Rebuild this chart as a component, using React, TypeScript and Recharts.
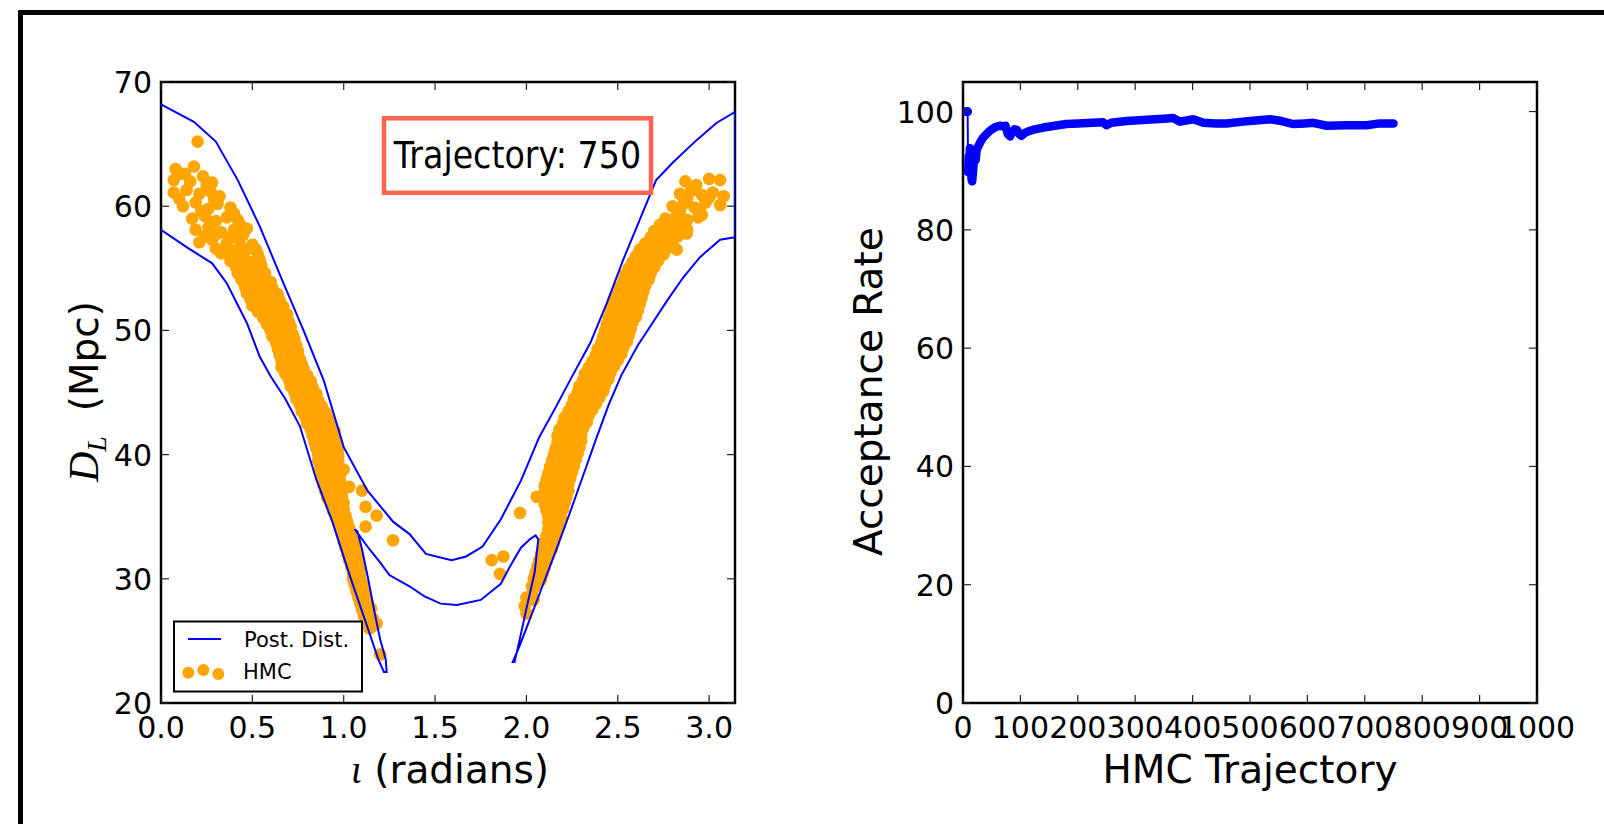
import React from 'react';
import {
  ComposedChart,
  LineChart,
  Line,
  Scatter,
  XAxis,
  YAxis,
  ReferenceArea,
} from 'recharts';

const PI = Math.PI;

// ---- left panel: posterior contour and HMC samples (iota, D_L) ----
const postDist: [number, number][] = [
  // lower-left edge down to the left tip
  [0.0, 58.1], [0.14, 56.7], [0.28, 55.4], [0.36, 53.8], [0.47, 50.6], [0.54, 47.9],
  [0.6, 46.3], [0.68, 44.5], [0.76, 42.3], [0.85, 38.0], [0.94, 34.5], [1.03, 30.4],
  [1.13, 26.1], [1.19, 23.5], [1.22, 22.5], [1.235, 22.5],
  // back up to the left hook, then the inner arc
  [1.23, 23.5], [1.2, 25.1], [1.17, 27.2], [1.135, 29.9], [1.1, 32.4], [1.075, 33.8],
  [1.06, 34.0], [1.08, 33.6], [1.14, 32.4], [1.2, 31.3], [1.25, 30.3], [1.36, 29.4],
  [1.44, 28.6], [1.53, 28.0], [1.62, 27.9], [1.75, 28.3], [1.86, 29.6], [1.91, 31.0],
  [1.97, 32.5], [2.02, 33.2], [2.05, 33.5], [2.065, 33.2],
  // down to the right tip
  [2.045, 30.5], [2.0, 27.6], [1.96, 24.9], [1.935, 23.3], [1.925, 23.3],
  // lower-right edge
  [1.96, 24.5], [2.02, 26.8], [2.09, 29.5], [2.16, 32.2], [2.24, 35.4], [2.31, 38.3],
  [2.38, 41.2], [2.45, 44.0], [2.52, 46.4], [2.61, 48.8], [2.69, 50.6], [2.77, 52.4],
  [2.86, 54.3], [2.95, 55.9], [3.06, 57.3], [PI, 57.5],
  // right edge and the upper curve back to the left
  [PI, 67.6], [3.04, 66.7], [2.93, 65.3], [2.8, 63.5], [2.71, 62.1], [2.62, 58.9],
  [2.53, 55.7], [2.44, 52.2], [2.35, 49.0], [2.25, 46.3], [2.16, 43.8], [2.07, 41.4],
  [1.97, 37.9], [1.86, 34.8], [1.76, 32.6], [1.67, 31.8], [1.59, 31.5], [1.45, 32.0],
  [1.36, 33.6], [1.27, 34.6], [1.13, 37.1], [1.0, 40.6], [0.89, 46.0], [0.78, 50.0],
  [0.67, 53.8], [0.54, 58.4], [0.42, 62.1], [0.3, 65.2], [0.18, 66.8], [0.0, 68.2],
];

const hmcLeftBranch: [number, number][] = [
  [0.2, 65.2],
  [0.08, 63.0], [0.18, 63.2], [0.13, 62.6],
  [0.07, 62.1], [0.16, 62.0], [0.23, 62.4], [0.28, 61.9],
  [0.07, 61.1], [0.14, 61.3], [0.21, 61.0], [0.27, 61.2], [0.32, 60.8],
  [0.12, 60.0], [0.19, 60.3], [0.26, 59.8], [0.31, 60.2], [0.38, 59.9],
  [0.17, 59.0], [0.24, 59.2], [0.3, 58.8], [0.36, 59.1], [0.42, 58.9],
  [0.19, 58.1], [0.26, 58.3], [0.33, 57.9], [0.4, 58.1], [0.47, 58.2],
  [0.21, 57.1], [0.28, 57.3], [0.36, 57.0], [0.43, 57.2], [0.5, 56.9],
  [0.33, 56.2], [0.39, 56.4], [0.45, 56.0], [0.53, 56.1],
  [0.41, 55.1], [0.46, 55.3], [0.51, 54.9], [0.55, 55.2],
  [0.44, 54.1], [0.49, 53.8], [0.54, 54.2], [0.6, 53.9],
  [0.47, 53.0], [0.53, 52.8], [0.58, 53.1], [0.64, 52.9],
  [0.5, 52.0], [0.56, 51.8], [0.61, 52.2], [0.67, 51.9],
  [0.56, 51.0], [0.61, 50.8], [0.66, 51.1], [0.7, 50.7],
  [0.6, 50.0], [0.65, 49.8], [0.69, 50.2], [0.72, 49.7],
  [0.63, 49.0], [0.67, 48.7], [0.71, 49.1], [0.74, 48.8],
  [0.65, 48.0], [0.69, 47.8], [0.73, 48.1], [0.76, 47.7],
  [0.66, 47.0], [0.7, 46.8], [0.74, 47.1], [0.78, 46.9],
  [0.7, 46.0], [0.74, 45.8], [0.78, 46.1], [0.82, 45.9],
  [0.73, 45.0], [0.77, 44.8], [0.81, 45.1], [0.85, 44.9],
  [0.76, 44.0], [0.8, 43.8], [0.84, 44.1], [0.88, 43.9],
  [0.79, 43.0], [0.83, 42.8], [0.87, 43.1], [0.92, 42.9],
  [0.82, 42.0], [0.86, 41.8], [0.9, 42.1], [0.95, 41.9],
  [0.84, 41.0], [0.88, 40.8], [0.92, 41.1], [0.96, 40.9],
  [0.86, 40.0], [0.9, 39.8], [0.94, 40.1], [0.97, 39.9],
  [0.87, 39.0], [0.91, 38.8], [0.95, 39.1], [0.98, 38.9], [1.0, 38.8],
  [0.88, 38.0], [0.92, 37.8], [0.96, 38.1], [0.98, 37.9], [1.03, 37.4], [1.1, 37.1],
  [0.9, 37.0], [0.94, 36.8], [0.99, 37.0],
  [0.93, 36.0], [0.97, 35.8], [1.0, 36.1], [1.12, 35.8], [1.18, 35.1],
  [0.96, 35.0], [0.99, 34.8], [1.01, 35.1],
  [0.98, 34.0], [1.01, 33.8], [1.03, 34.1], [1.12, 34.2], [1.27, 33.1],
  [1.0, 33.0], [1.03, 32.8], [1.05, 33.1],
  [1.02, 32.0], [1.05, 31.8], [1.07, 32.1],
  [1.04, 31.0], [1.06, 30.8], [1.08, 31.1],
  [1.05, 30.0], [1.07, 29.8], [1.09, 30.1],
  [1.07, 29.0], [1.09, 28.8], [1.11, 29.1],
  [1.09, 28.0], [1.11, 27.8], [1.13, 28.1],
  [1.11, 27.0], [1.14, 27.1], [1.16, 26.8],
  [1.14, 26.0], [1.17, 26.3], [1.18, 26.4],
  [1.2, 23.9],
];

// samples lying between the rows above (the band is solid in the figure)
const hmcLeftFill: [number, number][] = [
  [0.1, 62.6], [0.25, 61.7],
  [0.1, 60.6], [0.29, 60.6],
  [0.22, 59.6], [0.4, 59.4],
  [0.28, 58.7], [0.43, 58.6],
  [0.24, 57.6], [0.31, 57.8], [0.38, 57.5], [0.45, 57.7],
  [0.3, 56.6], [0.36, 56.7], [0.42, 56.5], [0.48, 56.6], [0.52, 56.5],
  [0.38, 55.6], [0.43, 55.7], [0.49, 55.5], [0.54, 55.7],
  [0.42, 54.6], [0.47, 54.7], [0.52, 54.5], [0.57, 54.6],
  [0.46, 53.5], [0.51, 53.4], [0.56, 53.6], [0.61, 53.4],
  [0.49, 52.5], [0.54, 52.4], [0.59, 52.6], [0.65, 52.4],
  [0.53, 51.5], [0.58, 51.4], [0.63, 51.6], [0.69, 51.3],
  [0.58, 50.5], [0.63, 50.4], [0.68, 50.6], [0.71, 50.3],
  [0.61, 49.5], [0.66, 49.3], [0.7, 49.6], [0.73, 49.3],
  [0.64, 48.5], [0.68, 48.3], [0.72, 48.6], [0.75, 48.3],
  [0.66, 47.5], [0.7, 47.3], [0.74, 47.6], [0.77, 47.3],
  [0.68, 46.5], [0.72, 46.3], [0.76, 46.6], [0.8, 46.4],
  [0.71, 45.5], [0.75, 45.3], [0.79, 45.6], [0.83, 45.4],
  [0.74, 44.5], [0.78, 44.3], [0.82, 44.6], [0.86, 44.4],
  [0.77, 43.5], [0.81, 43.3], [0.85, 43.6], [0.9, 43.4],
  [0.8, 42.5], [0.84, 42.3], [0.88, 42.6], [0.93, 42.4],
  [0.83, 41.5], [0.87, 41.3], [0.91, 41.6], [0.95, 41.4],
  [0.85, 40.5], [0.89, 40.3], [0.93, 40.6], [0.97, 40.4],
  [0.86, 39.5], [0.9, 39.3], [0.94, 39.6], [0.97, 39.4],
  [0.87, 38.5], [0.91, 38.3], [0.95, 38.6], [0.98, 38.4],
  [0.89, 37.5], [0.93, 37.3], [0.97, 37.6],
  [0.91, 36.5], [0.95, 36.3], [0.99, 36.6],
  [0.94, 35.5], [0.98, 35.3], [1.0, 35.6],
  [0.97, 34.5], [1.0, 34.3], [1.02, 34.6],
  [0.99, 33.5], [1.02, 33.3], [1.04, 33.6],
  [1.01, 32.5], [1.04, 32.3], [1.06, 32.6],
  [1.03, 31.5], [1.06, 31.3], [1.08, 31.6],
  [1.05, 30.5], [1.07, 30.3], [1.09, 30.6],
  [1.06, 29.5], [1.08, 29.3], [1.1, 29.6],
  [1.08, 28.5], [1.1, 28.3], [1.12, 28.6],
  [1.1, 27.5], [1.12, 27.3], [1.15, 27.6],
  [1.13, 26.5], [1.16, 26.2],
];

const hmcRightBranch: [number, number][] = [
  [1.81, 31.5], [1.874, 31.8], [1.855, 30.4], [1.965, 35.3], [2.056, 36.6],
  [2.0, 27.2], [1.99, 27.8], [2.047, 29.4], [2.09, 32.0],
  [2.0, 28.5], [2.03, 28.7], [2.04, 28.3],
  [2.03, 29.4], [2.05, 29.6],
  [2.04, 30.0], [2.06, 30.2], [2.08, 29.9],
  [2.06, 31.0], [2.08, 31.2], [2.1, 30.9],
  [2.08, 32.0], [2.1, 32.2], [2.12, 31.9],
  [2.1, 33.0], [2.13, 33.2], [2.15, 32.9],
  [2.12, 34.0], [2.15, 34.2], [2.17, 33.9],
  [2.12, 35.0], [2.16, 35.2], [2.19, 34.9],
  [2.1, 36.0], [2.14, 36.2], [2.18, 35.9], [2.21, 36.1],
  [2.1, 37.0], [2.14, 37.2], [2.19, 36.9], [2.23, 37.1],
  [2.11, 38.0], [2.15, 38.2], [2.2, 37.9], [2.24, 38.1],
  [2.13, 39.0], [2.17, 39.2], [2.22, 38.9], [2.26, 39.1],
  [2.15, 40.0], [2.19, 40.2], [2.24, 39.9], [2.28, 40.1],
  [2.17, 41.0], [2.21, 41.2], [2.26, 40.9], [2.3, 41.1],
  [2.18, 42.0], [2.22, 42.2], [2.27, 41.9], [2.31, 42.1],
  [2.21, 43.0], [2.25, 43.2], [2.3, 42.9], [2.34, 43.1],
  [2.25, 44.0], [2.29, 44.2], [2.34, 43.9], [2.38, 44.1],
  [2.28, 45.0], [2.32, 45.2], [2.37, 44.9], [2.42, 45.1],
  [2.31, 46.0], [2.35, 46.2], [2.4, 45.9], [2.45, 46.1],
  [2.34, 47.0], [2.38, 47.2], [2.43, 46.9], [2.48, 47.1],
  [2.38, 48.0], [2.42, 48.2], [2.47, 47.9], [2.52, 48.1],
  [2.41, 49.0], [2.45, 49.2], [2.5, 48.9], [2.55, 49.1],
  [2.43, 50.0], [2.48, 50.2], [2.53, 49.9], [2.57, 50.1],
  [2.45, 51.0], [2.5, 51.2], [2.55, 50.9], [2.6, 51.1],
  [2.47, 52.0], [2.52, 52.2], [2.57, 51.9], [2.62, 52.1],
  [2.5, 53.0], [2.55, 53.2], [2.6, 52.9], [2.64, 53.1],
  [2.53, 54.0], [2.58, 54.2], [2.63, 53.9], [2.67, 54.1],
  [2.56, 55.0], [2.61, 55.2], [2.66, 54.9], [2.7, 55.1],
  [2.6, 56.0], [2.65, 56.2], [2.7, 55.9], [2.75, 56.1], [2.823, 56.5],
  [2.65, 57.0], [2.7, 57.2], [2.75, 56.9], [2.8, 57.1], [2.877, 57.8],
  [2.7, 58.0], [2.76, 58.2], [2.82, 57.9], [2.88, 58.1],
  [2.76, 59.0], [2.82, 59.2], [2.88, 58.9], [2.94, 59.1], [2.96, 59.3],
  [2.8, 60.0], [2.86, 60.2], [2.92, 59.9], [2.98, 60.3], [3.06, 60.1],
  [2.84, 61.0], [2.9, 61.2], [2.96, 60.9], [3.02, 61.1], [3.08, 60.8],
  [2.87, 62.0], [2.93, 61.7], [3.0, 62.2], [3.06, 62.1],
];

const hmcRightFill: [number, number][] = [
  [2.05, 30.5], [2.07, 30.6], [2.09, 30.4],
  [2.07, 31.5], [2.09, 31.6], [2.11, 31.4],
  [2.09, 32.5], [2.11, 32.6], [2.14, 32.4],
  [2.11, 33.5], [2.14, 33.6], [2.16, 33.4],
  [2.12, 34.5], [2.15, 34.6], [2.18, 34.4],
  [2.11, 35.5], [2.15, 35.6], [2.19, 35.4], [2.2, 35.6],
  [2.1, 36.5], [2.13, 36.6], [2.17, 36.4], [2.22, 36.6],
  [2.1, 37.5], [2.14, 37.6], [2.18, 37.4], [2.23, 37.6],
  [2.12, 38.5], [2.16, 38.6], [2.21, 38.4], [2.25, 38.6],
  [2.14, 39.5], [2.18, 39.6], [2.23, 39.4], [2.27, 39.6],
  [2.16, 40.5], [2.2, 40.6], [2.25, 40.4], [2.29, 40.6],
  [2.17, 41.5], [2.21, 41.6], [2.26, 41.4], [2.3, 41.6],
  [2.2, 42.5], [2.24, 42.6], [2.29, 42.4], [2.33, 42.6],
  [2.23, 43.5], [2.27, 43.6], [2.32, 43.4], [2.36, 43.6],
  [2.26, 44.5], [2.3, 44.6], [2.35, 44.4], [2.4, 44.6],
  [2.29, 45.5], [2.33, 45.6], [2.38, 45.4], [2.43, 45.6],
  [2.32, 46.5], [2.36, 46.6], [2.41, 46.4], [2.46, 46.6],
  [2.36, 47.5], [2.4, 47.6], [2.45, 47.4], [2.5, 47.6],
  [2.39, 48.5], [2.44, 48.6], [2.49, 48.4], [2.53, 48.6],
  [2.42, 49.5], [2.46, 49.6], [2.51, 49.4], [2.56, 49.6],
  [2.44, 50.5], [2.49, 50.6], [2.54, 50.4], [2.58, 50.6],
  [2.46, 51.5], [2.51, 51.6], [2.56, 51.4], [2.61, 51.6],
  [2.48, 52.5], [2.53, 52.6], [2.58, 52.4], [2.63, 52.6],
  [2.51, 53.5], [2.56, 53.6], [2.61, 53.4], [2.65, 53.6],
  [2.54, 54.5], [2.59, 54.6], [2.64, 54.4], [2.68, 54.6],
  [2.58, 55.5], [2.63, 55.6], [2.68, 55.4], [2.72, 55.6],
  [2.62, 56.5], [2.67, 56.6], [2.72, 56.4], [2.77, 56.6],
  [2.68, 57.5], [2.73, 57.6], [2.78, 57.4], [2.83, 57.6],
  [2.73, 58.5], [2.79, 58.6], [2.85, 58.4],
  [2.84, 59.6], [2.95, 59.7],
  [2.88, 60.6], [3.0, 60.7],
  [2.92, 61.6],
];

const iotaTicks = [0, 0.5, 1, 1.5, 2, 2.5, 3];
const distanceTicks = [20, 30, 40, 50, 60, 70];

// ---- right panel: running acceptance rate ----
const trajectoryStart = [6, 8, 9];
const acceptanceStart = [100, 100, 89.8];

const trajectory = [
  9, 10, 11, 12, 14, 15, 16, 18, 20, 22, 24, 27, 30, 35, 40, 45, 50, 55, 60, 65,
  70, 74, 78, 82, 86, 90, 94, 98, 102, 108, 115, 125, 140, 160, 180, 200, 225, 244, 250, 258,
  285, 320, 350, 366, 378, 401, 419, 440, 459, 488, 510, 535, 555, 575, 595, 610, 634, 668, 703, 726,
  750,
];
const acceptance = [
  89.8, 92.5, 90.8, 93.8, 90.5, 88.4, 88.2, 90.5, 93.5, 91.8, 93.6, 94.2, 94.8, 95.6, 96.1, 96.6, 97.0, 97.3, 97.5, 97.6,
  97.5, 97.6, 96.2, 95.8, 96.6, 97.0, 96.9, 96.2, 95.9, 96.4, 96.7, 97.0, 97.3, 97.6, 97.9, 98.0, 98.1, 98.2, 97.7, 98.1,
  98.4, 98.6, 98.8, 98.9, 98.3, 98.7, 98.1, 98.0, 98.0, 98.3, 98.5, 98.7, 98.4, 97.9, 98.0, 98.1, 97.6, 97.7, 97.7, 98.0,
  98.0,
];

const trajTicks = [0, 100, 200, 300, 400, 500, 600, 700, 800, 900, 1000];
const rateTicks = [0, 20, 40, 60, 80, 100];

const BLUE = '#0000ff';
const ORANGE = '#ffa500';
const TICK_FONT = 30;
const LABEL_FONT = 39;

type Box = { left: number; right: number; top: number; bottom: number };

// plot boxes relative to each chart's own svg
const LEFT_BOX: Box = { left: 161, right: 735, top: 82, bottom: 703 };
const RIGHT_BOX: Box = { left: 163, right: 737, top: 82, bottom: 703 };

const toPoints = (pairs: [number, number][]) => pairs.map(([x, y]) => ({ x, y }));

// matplotlib-style ticks: inward marks on both opposite spines
function makeXTick(box: Box, fmt: (v: number) => string) {
  return (props: any) => {
    const { x, payload } = props;
    return (
      <g>
        <line x1={x} x2={x} y1={box.bottom} y2={box.bottom - 8} stroke="#222" strokeWidth={1.2} />
        <line x1={x} x2={x} y1={box.top} y2={box.top + 8} stroke="#222" strokeWidth={1.2} />
        <text x={x} y={box.bottom + 35} textAnchor="middle" fontSize={TICK_FONT} fill="#000">
          {fmt(payload.value)}
        </text>
      </g>
    );
  };
}

function makeYTick(box: Box) {
  return (props: any) => {
    const { y, payload } = props;
    return (
      <g>
        <line x1={box.left} x2={box.left + 8} y1={y} y2={y} stroke="#222" strokeWidth={1.2} />
        <line x1={box.right} x2={box.right - 8} y1={y} y2={y} stroke="#222" strokeWidth={1.2} />
        <text x={box.left - 9} y={y + 11} textAnchor="end" fontSize={TICK_FONT} fill="#000">
          {payload.value}
        </text>
      </g>
    );
  };
}

function HmcDot(props: any) {
  return <circle cx={props.cx} cy={props.cy} r={6.3} fill={ORANGE} />;
}

function PosteriorPanel() {
  const samples = toPoints([...hmcLeftBranch, ...hmcLeftFill, ...hmcRightBranch, ...hmcRightFill]);
  return (
    <ComposedChart
      width={800}
      height={824}
      margin={{ top: 82, right: 65, bottom: 81, left: 121 }}
    >
      <XAxis
        type="number"
        dataKey="x"
        domain={[0, PI]}
        ticks={iotaTicks}
        allowDataOverflow
        axisLine={false}
        tickLine={false}
        height={40}
        tick={makeXTick(LEFT_BOX, (v) => v.toFixed(1))}
      />
      <YAxis
        type="number"
        dataKey="y"
        domain={[20, 70]}
        ticks={distanceTicks}
        allowDataOverflow
        axisLine={false}
        tickLine={false}
        width={40}
        tick={makeYTick(LEFT_BOX)}
      />
      <ReferenceArea x1={0} x2={PI} y1={20} y2={70} fill="none" stroke="#000" strokeWidth={2.5} />
      <Scatter data={samples} shape={HmcDot} isAnimationActive={false} />
    </ComposedChart>
  );
}

// the contour sits on top of the samples, so it gets its own transparent layer
function ContourLayer() {
  return (
    <ComposedChart
      width={800}
      height={824}
      margin={{ top: 82, right: 65, bottom: 121, left: 161 }}
    >
      <XAxis type="number" dataKey="x" domain={[0, PI]} allowDataOverflow hide />
      <YAxis type="number" dataKey="y" domain={[20, 70]} allowDataOverflow hide />
      <Line
        data={toPoints(postDist)}
        dataKey="y"
        type="linear"
        stroke={BLUE}
        strokeWidth={2}
        dot={false}
        isAnimationActive={false}
      />
    </ComposedChart>
  );
}

function AcceptancePanel() {
  const start = trajectoryStart.map((t, i) => ({ x: t, y: acceptanceStart[i] }));
  const main = trajectory.map((t, i) => ({ x: t, y: acceptance[i] }));
  return (
    <LineChart
      width={804}
      height={824}
      margin={{ top: 82, right: 67, bottom: 81, left: 123 }}
    >
      <XAxis
        type="number"
        dataKey="x"
        domain={[0, 1000]}
        ticks={trajTicks}
        allowDataOverflow
        axisLine={false}
        tickLine={false}
        height={40}
        tick={makeXTick(RIGHT_BOX, (v) => String(v))}
      />
      <YAxis
        type="number"
        dataKey="y"
        domain={[0, 105]}
        ticks={rateTicks}
        allowDataOverflow
        axisLine={false}
        tickLine={false}
        width={40}
        tick={makeYTick(RIGHT_BOX)}
      />
      <ReferenceArea x1={0} x2={1000} y1={0} y2={105} fill="none" stroke="#000" strokeWidth={2.5} />
      <Line
        data={start}
        dataKey="y"
        type="linear"
        stroke={BLUE}
        strokeWidth={2}
        dot={{ r: 3.5, fill: BLUE, stroke: BLUE }}
        isAnimationActive={false}
      />
      <Line
        data={main}
        dataKey="y"
        type="linear"
        stroke={BLUE}
        strokeWidth={8.5}
        strokeLinejoin="round"
        strokeLinecap="round"
        dot={false}
        isAnimationActive={false}
      />
    </LineChart>
  );
}

export default function App() {
  return (
    <div
      style={{
        position: 'absolute',
        left: 0,
        top: 0,
        width: 1604,
        height: 824,
        overflow: 'hidden',
        background: '#fff',
        fontFamily: "'DejaVu Sans', sans-serif",
      }}
    >
      <div style={{ position: 'absolute', left: 0, top: 0 }}>
        <PosteriorPanel />
      </div>
      <div style={{ position: 'absolute', left: 0, top: 0 }}>
        <ContourLayer />
      </div>
      <div style={{ position: 'absolute', left: 800, top: 0 }}>
        <AcceptancePanel />
      </div>

      {/* frame, axis labels, annotation box and legend */}
      <svg
        width={1604}
        height={824}
        style={{ position: 'absolute', left: 0, top: 0, pointerEvents: 'none' }}
      >
        <rect x={18} y={10} width={1586} height={5} fill="#000" />
        <rect x={18} y={10} width={5} height={814} fill="#000" />

        <text x={450} y={783} textAnchor="middle" fontSize={LABEL_FONT} fill="#000">
          <tspan fontFamily="'Liberation Serif', serif" fontStyle="italic">ι</tspan>
          <tspan> (radians)</tspan>
        </text>
        <text x={1250} y={783} textAnchor="middle" fontSize={LABEL_FONT} fill="#000">
          HMC Trajectory
        </text>
        <text transform="translate(98,391.5) rotate(-90)" textAnchor="middle" fontSize={LABEL_FONT} fill="#000">
          <tspan fontFamily="'Liberation Serif', serif" fontStyle="italic" fontSize={42}>D</tspan>
          <tspan fontFamily="'Liberation Serif', serif" fontStyle="italic" fontSize={28} dy={8}>L</tspan>
          <tspan dy={-8}>{'\u00a0\u00a0(Mpc)'}</tspan>
        </text>
        <text transform="translate(882,391.7) rotate(-90)" textAnchor="middle" fontSize={LABEL_FONT} fill="#000">
          Acceptance Rate
        </text>

        <rect x={384} y={118.3} width={267} height={74.5} fill="#fff" stroke="#ff6450" strokeWidth={4.5} />
        <text transform="translate(517.5,168) scale(0.9,1)" textAnchor="middle" fontSize={37} fill="#000">
          Trajectory: 750
        </text>

        <rect x={174} y={621.5} width={188} height={70} fill="#fff" stroke="#000" strokeWidth={2} />
        <line x1={188} x2={221} y1={639} y2={639} stroke={BLUE} strokeWidth={2} />
        <text x={244} y={646.5} fontSize={21} fill="#000">Post. Dist.</text>
        <circle cx={188.3} cy={672.7} r={6} fill={ORANGE} />
        <circle cx={203.3} cy={670} r={6} fill={ORANGE} />
        <circle cx={218.3} cy={674} r={6} fill={ORANGE} />
        <text x={243} y={678.5} fontSize={21} fill="#000">HMC</text>
      </svg>
    </div>
  );
}
